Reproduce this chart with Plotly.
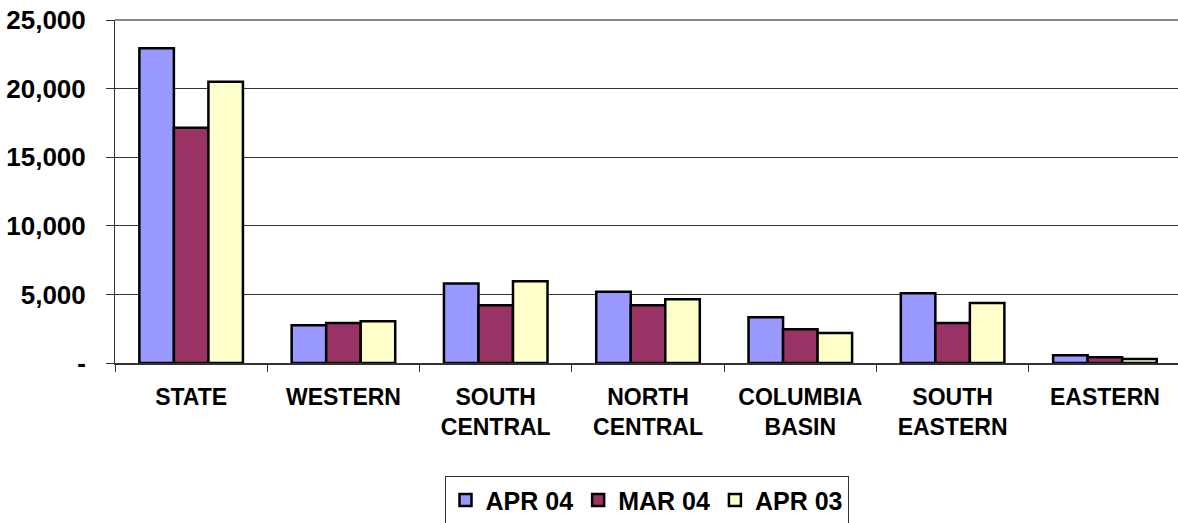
import plotly.graph_objects as go

categories = ["STATE", "WESTERN", "SOUTH<br>CENTRAL", "NORTH<br>CENTRAL",
              "COLUMBIA<br>BASIN", "SOUTH<br>EASTERN", "EASTERN"]
apr04 = [22950, 2750, 5800, 5200, 3330, 5080, 560]
mar04 = [17150, 2920, 4210, 4210, 2460, 2920, 420]
apr03 = [20500, 3040, 5960, 4650, 2190, 4380, 290]

series_names = ["APR 04", "MAR 04", "APR 03"]
series_colors = ["#9999FF", "#993366", "#FFFFCC"]

ytick_vals = [0, 5000, 10000, 15000, 20000, 25000]
ytick_text = ["-", "5,000", "10,000", "15,000", "20,000", "25,000"]

fig = go.Figure()
for name, vals, col in zip(series_names, [apr04, mar04, apr03], series_colors):
    fig.add_trace(go.Bar(
        x=categories, y=vals, name=name,
        marker=dict(color=col, line=dict(color="black", width=2.5)),
    ))

font_family = "Liberation Sans, Arial, sans-serif"

fig.update_layout(
    width=1178, height=523,
    margin=dict(l=115, r=0, t=20, b=160, autoexpand=False),
    paper_bgcolor="white", plot_bgcolor="white",
    barmode="group", bargap=0.32, bargroupgap=0,
    font=dict(family=font_family, color="black"),
    showlegend=True,
    legend=dict(
        orientation="h", x=0.5, xanchor="center", y=-0.33, yanchor="top",
        font=dict(size=25, family=font_family, color="black", weight="bold"),
        bordercolor="#333333", borderwidth=1, bgcolor="white",
        itemwidth=30, tracegroupgap=0,
    ),
    shapes=[dict(type="line", xref="paper", yref="paper", x0=0, x1=1, y0=1, y1=1,
                 line=dict(color="#888888", width=2), layer="above")],
)

fig.update_xaxes(
    range=[-0.5, 6.48], automargin=False,
    showline=True, linecolor="#333333", linewidth=2,
    ticks="outside", tickson="boundaries", ticklen=7, tickcolor="#333333",
    tickfont=dict(size=23, family=font_family, color="black", weight="bold"),
    ticklabelstandoff=12,
    showgrid=False,
)
fig.update_yaxes(
    range=[0, 25000], automargin=False,
    tickvals=ytick_vals, ticktext=ytick_text,
    showline=True, linecolor="#333333", linewidth=1,
    ticks="outside", ticklen=8, tickcolor="#333333",
    showgrid=True, gridcolor="#333333", gridwidth=1,
    zeroline=False,
    tickfont=dict(size=26, family=font_family, color="black", weight="bold"),
    ticklabelstandoff=15,
)

fig.write_html(
    "out.html",
    config={"displayModeBar": False},
    post_script="document.body.style.margin='0';document.body.style.overflow='hidden';",
)
